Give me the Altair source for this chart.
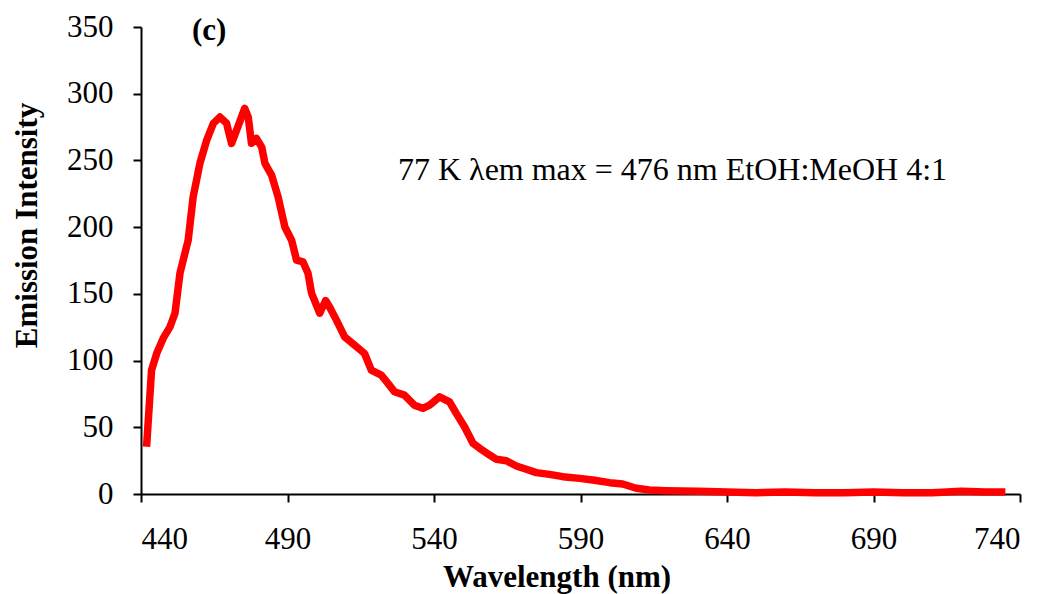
import altair as alt
import pandas as pd

wavelength = [441.9, 443.6, 445.4, 447.6, 449.9, 451.6, 453.3, 456.1, 457.8, 460.1,
              462.4, 464.7, 466.9, 469.2, 470.9, 472.6, 475.4, 476.6, 477.7, 479.4,
              481.2, 482.3, 484.6, 486.8, 489.1, 491.4, 493.1, 495.3, 497.0, 498.2,
              501.0, 503.0, 504.4, 506.7, 509.5, 512.9, 516.3, 518.6, 522.0, 524.3,
              526.5, 529.9, 533.3, 536.2, 538.5, 541.9, 545.3, 547.6, 550.4, 553.3,
              555.6, 559.0, 561.3, 564.7, 568.1, 571.5, 574.9, 579.4, 584.0, 589.7,
              594.2, 599.9, 604.4, 609.0, 613.5, 619.0, 630.0, 640.0, 650.0, 660.0,
              670.0, 680.0, 690.0, 700.0, 710.0, 720.0, 728.0, 735.0]
intensity = [35.4, 92.8, 105.6, 116.8, 125.3, 135.5, 165.5, 190.2, 222.6, 247.8,
             265.0, 277.8, 282.5, 277.8, 262.8, 272.5, 289.0, 282.5, 262.8, 266.5,
             260.0, 247.8, 238.8, 222.6, 200.1, 190.2, 175.2, 173.9, 165.5, 150.5,
             135.5, 145.0, 140.0, 130.3, 117.8, 111.6, 105.3, 92.8, 89.1, 82.9,
             76.6, 74.1, 66.6, 64.2, 66.6, 72.8, 69.1, 60.4, 50.4, 38.0,
             34.2, 29.2, 26.0, 24.9, 21.0, 18.5, 16.0, 14.7, 13.0, 11.7,
             10.5, 8.5, 7.5, 4.3, 3.0, 2.5, 2.0, 1.5, 1.0, 1.5,
             1.0, 1.0, 1.5, 1.0, 1.0, 2.0, 1.5, 1.5]

x_ticks = [440, 490, 540, 590, 640, 690, 740]
y_ticks = [0, 50, 100, 150, 200, 250, 300, 350]

annotation = ["77 K \u03bbem max = 476 nm EtOH:MeOH 4:1"]
panel_label = ["(c)"]

df = pd.DataFrame({"wl": wavelength, "em": intensity})

FONT = "Liberation Serif"

line = alt.Chart(df).mark_line(color="#FF0000", strokeWidth=7.5, strokeJoin="round").encode(
    x=alt.X("wl:Q", scale=alt.Scale(domain=[440, 740], nice=False, zero=False),
            axis=alt.Axis(values=x_ticks, title="Wavelength (nm)", format="d",
                          labelPadding=22, titleX=415.5, titleY=92.7,
                          titleAlign="center", titleBaseline="alphabetic")),
    y=alt.Y("em:Q", scale=alt.Scale(domain=[0, 350], nice=False),
            axis=alt.Axis(values=y_ticks, title="Emission Intensity", format="d",
                          labelPadding=20, titleX=-105, titleY=198, titleAngle=-90,
                          titleAlign="center", titleBaseline="alphabetic")),
)

ann = alt.Chart(pd.DataFrame({"t": annotation})).mark_text(
    font=FONT, fontSize=32, align="left", baseline="alphabetic", color="black"
).encode(text="t:N", x=alt.value(257), y=alt.value(153))

lab = alt.Chart(pd.DataFrame({"t": panel_label})).mark_text(
    font=FONT, fontSize=31, fontWeight="bold", align="left", baseline="alphabetic",
    color="black"
).encode(text="t:N", x=alt.value(51), y=alt.value(13))

chart = alt.layer(line, ann, lab).properties(
    width=879, height=467,
    autosize=alt.AutoSizeParams(type="none"),
    padding={"left": 141, "top": 27, "right": 26, "bottom": 100},
).configure(background="white").configure_view(stroke=None).configure_axis(
    domainColor="black", domainWidth=2, tickColor="black", tickWidth=2, tickSize=8,
    grid=False, labelFont=FONT, labelFontSize=31, labelColor="black",
    titleFont=FONT, titleFontSize=31, titleFontWeight="bold", titleColor="black",
    labelLimit=0, titleLimit=0,
)

chart.save("out.html", embed_options={"renderer": "svg", "actions": False})
